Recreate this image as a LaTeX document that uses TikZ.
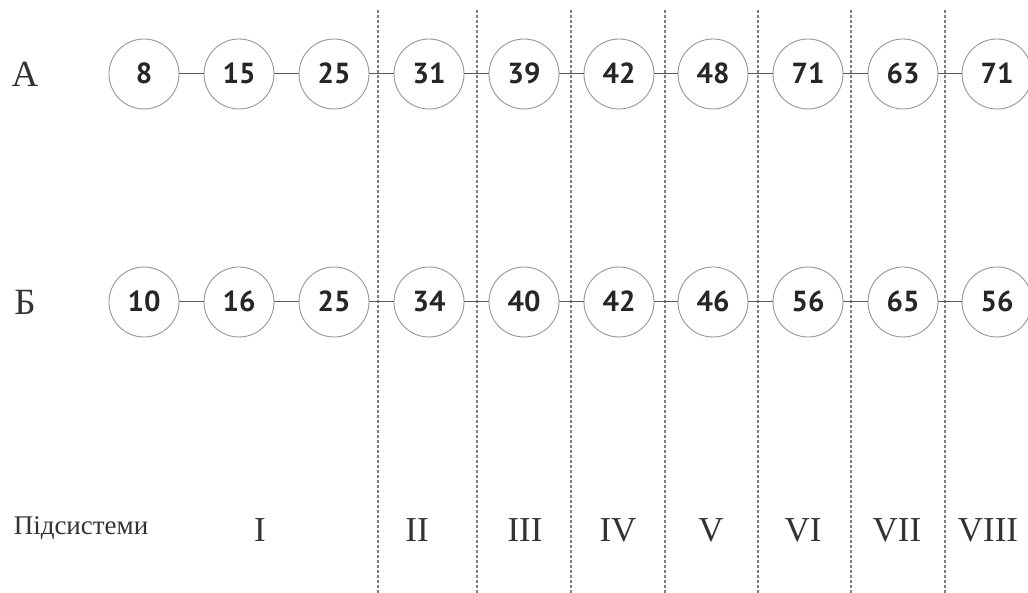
\documentclass[tikz,border=0pt]{standalone}
\usepackage{fontspec}
\setmainfont{Liberation Serif}
\newfontfamily\numfont[Numbers=Lining]{PT Sans}
\usetikzlibrary{positioning}
\definecolor{RingGray}{RGB}{150,150,150}
\definecolor{DashGray}{RGB}{125,125,125}

\begin{document}
\begin{tikzpicture}[x=1pt, y=-1pt,
    val/.style={circle, draw=RingGray, line width=0.9pt, minimum size=70pt, inner sep=0pt,
      text height=20pt, text depth=0pt,
      font=\numfont\bfseries\fontsize{29}{30}\selectfont, text=black!85},
    link/.style={black!65, line width=1pt},
    split/.style={DashGray, line width=1.2pt, dash pattern=on 3pt off 2pt},
    rowlbl/.style={font=\fontsize{37}{40}\selectfont, text=black!80},
    sublbl/.style={font=\fontsize{35}{38}\selectfont, text=black!80}]
    \useasboundingbox (0,0) rectangle (1028,593);

    % Subsystem borders
    \draw[split] (378,10) -- (378,593);
    \draw[split] (477,10) -- (477,593);
    \draw[split] (571,10) -- (571,593);
    \draw[split] (665,10) -- (665,593);
    \draw[split] (758,10) -- (758,593);
    \draw[split] (851,10) -- (851,593);
    \draw[split] (945,10) -- (945,593);

    % Row A
    \node[rowlbl] (lblA) at (25,74) {А};
    \node[val] (a1) at (144,74) {8};
    \node[val] (a2) at (239,74) {15};
    \node[val] (a3) at (334,74) {25};
    \node[val] (a4) at (429,74) {31};
    \node[val] (a5) at (524,74) {39};
    \node[val] (a6) at (619,74) {42};
    \node[val] (a7) at (713,74) {48};
    \node[val] (a8) at (808,74) {71};
    \node[val] (a9) at (903,74) {63};
    \node[val] (a10) at (997,74) {71};
    \draw[link] (a1) -- (a2);
    \draw[link] (a2) -- (a3);
    \draw[link] (a3) -- (a4);
    \draw[link] (a4) -- (a5);
    \draw[link] (a5) -- (a6);
    \draw[link] (a6) -- (a7);
    \draw[link] (a7) -- (a8);
    \draw[link] (a8) -- (a9);
    \draw[link] (a9) -- (a10);

    % Row B
    \node[rowlbl] (lblB) at (25,302) {Б};
    \node[val] (b1) at (144,302) {10};
    \node[val] (b2) at (239,302) {16};
    \node[val] (b3) at (334,302) {25};
    \node[val] (b4) at (429,302) {34};
    \node[val] (b5) at (524,302) {40};
    \node[val] (b6) at (619,302) {42};
    \node[val] (b7) at (713,302) {46};
    \node[val] (b8) at (808,302) {56};
    \node[val] (b9) at (903,302) {65};
    \node[val] (b10) at (997,302) {56};
    \draw[link] (b1) -- (b2);
    \draw[link] (b2) -- (b3);
    \draw[link] (b3) -- (b4);
    \draw[link] (b4) -- (b5);
    \draw[link] (b5) -- (b6);
    \draw[link] (b6) -- (b7);
    \draw[link] (b7) -- (b8);
    \draw[link] (b8) -- (b9);
    \draw[link] (b9) -- (b10);

    % Subsystem labels
    \node[font=\fontsize{27}{28}\selectfont, text=black!80] (subs) at (81,528) {Підсистеми};
    \node[sublbl] (s1) at (260,530) {I};
    \node[sublbl] (s2) at (417,530) {II};
    \node[sublbl] (s3) at (525,530) {III};
    \node[sublbl] (s4) at (618,530) {IV};
    \node[sublbl] (s5) at (711,530) {V};
    \node[sublbl] (s6) at (803,530) {VI};
    \node[sublbl] (s7) at (897,530) {VII};
    \node[sublbl] (s8) at (988,530) {VIII};
\end{tikzpicture}
\end{document}
